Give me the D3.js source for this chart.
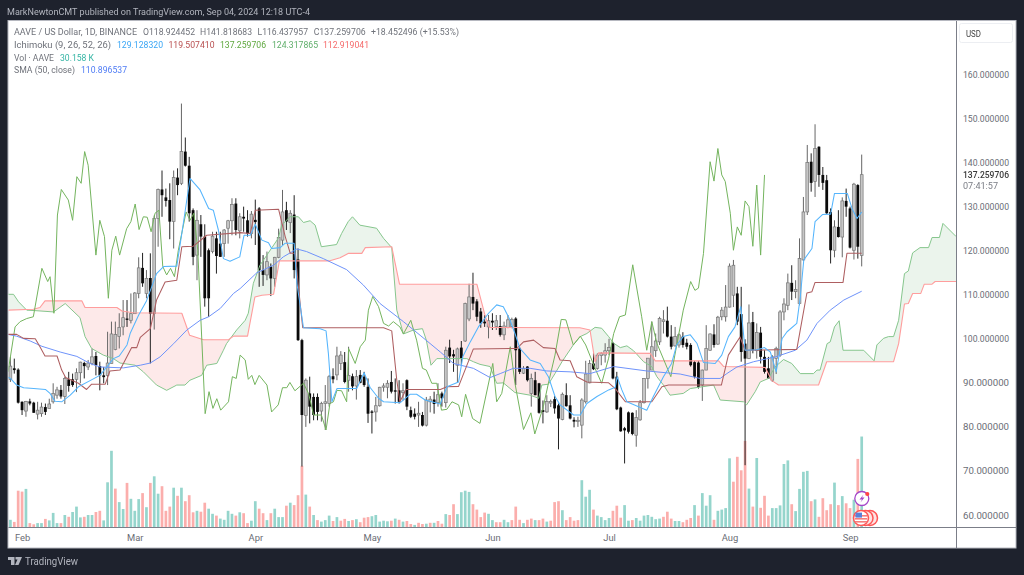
<!DOCTYPE html>
<html><head><meta charset="utf-8">
<script src="https://d3js.org/d3.v7.min.js"></script>
<style>html,body{margin:0;padding:0;background:#1e222d;overflow:hidden}svg{display:block;filter:blur(.35px)}text{font-family:Roboto,"Liberation Sans",sans-serif}</style>
</head><body><svg id="c" width="1024" height="575"></svg>
<script>
const opens=[90.8,93.3,93.0,85.7,83.6,85.8,85.5,82.9,83.0,84.5,
84.2,85.7,87.2,88.4,86.9,90.8,90.8,90.8,92.3,94.5,
93.6,94.4,96.1,93.8,91.7,91.7,94.4,97.6,100.5,102.7,
104.6,104.2,105.7,110.3,116.1,110.3,113.8,105.7,127.3,133.9,
132.1,131.5,126.6,136.6,135.3,142.5,139.3,129.2,119.0,126.0,
123.2,120.1,119.8,122.8,121.6,121.6,125.1,126.8,130.7,124.5,
127.7,126.9,123.9,127.0,129.6,115.6,114.5,116.4,113.7,118.5,
122.4,129.2,126.4,128.2,118.0,99.7,82.6,87.6,86.8,86.8,
83.6,85.3,85.3,91.5,91.8,94.4,94.7,90.6,91.5,89.3,
91.8,91.4,89.1,83.5,83.4,84.8,89.0,89.0,90.2,88.3,
88.3,87.8,90.6,83.8,83.0,82.7,82.7,80.4,85.7,86.2,
85.5,87.6,85.5,98.0,96.5,94.0,98.0,99.5,104.5,109.5,
108.5,106.2,103.9,102.7,104.1,102.8,102.9,100.9,102.6,102.8,
104.6,97.8,92.2,93.7,87.6,90.6,89.9,83.8,83.4,85.4,
86.3,84.9,81.7,87.2,84.9,81.6,81.2,80.4,85.7,90.0,
94.4,93.3,96.2,96.3,97.3,99.0,91.4,84.4,79.7,83.3,
83.2,78.1,81.6,85.5,91.0,92.9,97.3,99.3,103.9,104.1,
100.5,98.4,98.6,100.5,99.1,98.6,94.7,94.6,89.5,92.9,
97.4,101.0,98.8,105.0,105.0,107.2,109.9,110.3,105.6,98.9,
95.5,103.8,97.3,101.4,95.9,93.3,90.6,95.5,96.3,106.1,
107.6,112.7,110.7,108.0,117.9,128.8,140.2,135.7,143.6,137.2,
136.0,128.8,120.1,125.4,123.1,131.3,129.6,120.1,134.9,118.924];
const highs=[95.9,95.5,93.3,85.8,85.9,86.4,85.7,85.7,85.5,85.3,
86.4,89.9,89.1,89.5,91.4,92.5,92.1,93.3,94.8,94.8,
95.2,97.8,97.0,94.8,93.6,101.6,103.9,103.9,105.8,108.8,
108.8,110.3,110.6,118.5,119.5,115.6,119.4,128.0,134.1,138.2,
134.1,135.3,138.2,138.7,153.4,145.7,141.3,129.6,129.2,128.1,
126.0,120.5,124.3,124.3,124.3,124.9,127.0,131.9,131.9,128.5,
130.0,129.2,129.0,131.6,129.9,119.0,119.8,117.1,118.6,125.0,
133.8,131.1,129.2,132.6,120.5,100.0,91.0,91.4,87.6,87.6,
85.7,89.5,91.8,93.3,98.2,97.2,97.0,98.2,92.1,92.9,
92.9,92.5,91.0,83.8,86.8,89.1,89.9,90.6,92.7,91.0,
90.6,89.9,90.8,84.6,84.2,85.7,83.4,86.8,87.0,88.0,
89.9,88.0,98.2,99.8,97.5,98.0,99.5,108.2,112.5,115.0,
109.0,107.0,105.4,105.4,105.8,105.4,105.4,103.9,105.4,104.8,
104.9,98.2,93.8,93.8,92.1,92.5,90.0,86.0,87.2,86.2,
87.0,85.3,87.8,89.9,87.2,82.2,82.3,86.5,95.0,95.2,
96.7,96.7,97.0,99.0,100.0,99.3,92.5,84.6,80.0,83.5,
83.3,83.8,86.1,91.1,95.6,103.9,101.2,105.0,106.5,107.3,
103.1,102.7,101.2,101.5,100.0,99.0,95.0,95.0,93.0,103.1,
101.2,103.3,105.2,107.2,112.2,117.1,117.9,111.8,111.8,99.9,
107.8,106.1,103.5,102.7,97.4,95.9,96.3,98.2,106.5,109.2,
114.8,116.7,113.3,122.8,132.2,144.0,142.1,148.7,143.7,139.0,
137.2,129.6,126.9,129.2,132.1,134.1,130.0,135.4,135.1,141.819];
const lows=[90.2,92.1,85.3,82.7,82.3,84.9,83.2,81.7,82.3,82.7,
84.2,85.3,86.4,86.4,85.2,88.0,89.1,87.9,89.9,91.0,
92.9,94.0,91.7,88.3,89.9,89.5,94.4,97.4,97.8,100.8,
102.7,103.5,105.7,109.2,111.8,109.2,94.4,102.1,120.9,127.7,
130.0,122.6,120.5,132.6,134.9,139.1,126.6,116.7,113.3,118.6,
107.3,105.0,119.4,114.8,118.6,118.6,121.6,123.5,123.5,122.8,
124.3,123.2,122.8,121.3,111.8,112.0,113.3,109.7,111.8,118.3,
121.3,124.7,124.0,113.7,99.5,71.0,80.0,80.8,81.5,81.5,
81.2,79.3,84.6,89.9,90.6,92.9,89.9,88.0,88.3,86.2,
89.9,89.1,80.9,78.5,81.2,84.6,88.0,86.5,87.6,85.3,
85.3,86.0,83.8,82.0,81.7,80.0,80.1,80.1,83.3,83.0,
84.6,84.6,84.4,94.5,92.5,90.0,94.0,99.3,104.0,106.5,
104.0,102.5,102.7,100.1,102.0,102.0,100.5,99.7,102.4,102.4,
89.5,92.0,92.0,90.3,84.6,87.2,83.0,80.8,83.2,84.5,
83.0,74.9,81.5,84.6,81.7,79.9,80.0,77.4,85.3,89.9,
92.9,93.0,94.0,94.6,96.3,90.8,83.8,78.9,71.7,78.5,
78.1,75.5,81.4,85.3,88.7,92.9,95.9,98.6,101.2,100.3,
97.6,98.2,98.0,98.0,97.6,93.7,91.0,88.7,85.9,92.9,
97.3,98.0,98.6,104.2,103.9,107.1,107.2,103.1,94.8,71.3,
95.4,96.7,95.5,94.4,92.1,91.0,90.2,92.0,95.9,104.2,
106.5,108.8,109.2,107.6,117.7,128.1,133.4,132.2,134.5,133.8,
128.3,117.1,118.5,123.0,118.5,127.7,120.5,118.0,118.2,116.438];
const closes=[93.8,92.9,85.5,83.8,85.8,85.3,83.2,83.8,84.5,83.4,
85.2,87.6,88.4,86.9,91.0,89.3,89.5,92.3,94.7,93.8,
94.5,95.9,94.0,91.7,91.3,94.5,101.1,101.0,102.6,104.8,
104.3,105.7,110.4,116.1,112.6,113.7,105.7,127.3,133.9,132.6,
131.3,126.6,136.6,134.9,142.5,139.3,128.5,118.6,126.9,123.2,
109.2,109.2,123.3,118.8,118.6,124.7,126.8,130.5,124.7,127.7,
127.3,123.9,128.3,126.5,115.6,114.5,117.5,113.7,118.5,123.0,
128.8,126.6,128.5,115.6,99.7,82.7,90.6,84.6,82.7,83.4,
85.3,85.7,91.4,90.8,96.1,96.3,90.2,91.7,89.2,91.4,
90.0,89.5,83.0,83.2,84.8,89.0,89.3,89.9,88.0,88.0,
85.7,88.2,84.6,82.3,82.3,83.1,80.3,86.1,86.3,85.2,
87.3,86.5,97.4,96.0,96.0,97.7,95.5,108.0,109.5,108.0,
105.0,103.5,103.5,104.1,103.7,104.1,100.9,102.9,104.3,104.4,
97.4,92.5,93.3,90.6,91.0,87.2,83.2,83.4,85.8,85.8,
84.2,81.9,87.4,84.7,81.9,81.2,81.5,86.1,92.0,94.4,
93.1,96.3,96.7,97.3,98.0,91.0,84.0,79.0,79.2,78.9,
78.4,82.1,85.5,91.0,95.6,98.2,99.5,104.6,104.3,100.5,
98.2,100.5,100.9,98.6,98.2,94.0,91.4,89.1,92.9,97.8,
101.1,98.6,104.9,106.5,107.2,116.5,116.7,103.9,97.0,95.5,
103.6,97.4,101.4,95.9,92.5,91.0,95.9,97.8,106.1,107.9,
112.7,110.7,111.2,118.2,128.8,140.0,135.4,143.2,137.2,135.4,
128.5,120.1,125.4,123.1,131.3,130.0,120.7,135.1,120.9,137.260];
const volumes=[2.4,1.7,12.1,11.8,12.7,1.3,.9,1.3,1.3,2.7,
2.2,4.7,1.3,1.3,4,3.4,5,6.8,3.2,3.4,
4,4,5,5.4,2.2,14.9,25.4,12.8,8.3,6,
14.7,9.4,5.4,9.3,11.3,6.6,14.7,16.9,11.1,13.6,
5.4,6.8,13.1,10.4,13.1,8.6,10.6,4.9,5.4,5.1,
8.1,6.1,4.4,3.8,2.8,2.4,5.4,4.4,3.8,4.9,
4.6,1.3,2.1,8.6,6.1,4.6,2.3,4.6,6.1,3.3,
3.3,7.1,8.1,7.3,10.6,20.4,10.8,6.8,4,2.3,
1.8,2.3,3.8,2,3.3,2.1,2.7,2,2.3,2.6,
1.6,3.1,3.3,3.6,4,1.8,2.1,1.9,2.1,2.8,
2.4,1.8,2,1,.7,1.4,1,1.1,1.4,1.4,
2,1.1,4.3,4,7.6,4.3,11.6,12.1,11.7,7.6,
5.8,3.3,4.8,4.4,2.3,1.6,1.6,2.4,1.6,2.3,
6.8,2.4,1.3,2.4,2.8,2.3,2.3,2.8,1.8,2.1,
8.3,8.6,5.6,2.3,3.3,2.1,2.3,15.6,10.1,12.4,
5.8,3.8,3.3,2.3,3,5.4,7.1,3.1,7.3,2.1,
2.3,3,2.1,3.8,4,3.4,2.6,2.8,3.4,5.1,
2.8,2,2,1.6,2.4,3,7.3,3.8,11.3,7.1,
10.6,2.4,5.4,5.8,6.3,22.9,15.1,23.4,18.9,28.7,
12.8,6.8,23,6.4,10.4,3.8,6.3,6.3,7.2,21,
22.2,7.6,5.3,12.7,18.4,18.7,8.6,9.2,3.4,9.6,
5.6,7.6,14.8,7.3,10.3,7.9,6.3,9.1,22.7,30.158];
const volumeUp=[1,0,0,0,1,0,0,1,1,0,1,1,1,0,1,0,1,1,1,0,1,1,0,0,1,1,1,0,1,1,
0,1,1,1,0,1,0,1,1,0,0,0,1,0,1,0,0,0,1,0,0,1,1,0,1,1,1,1,0,1,
0,0,1,1,0,0,1,0,1,1,1,0,1,0,0,0,1,0,1,0,1,1,1,0,1,0,0,1,0,1,
0,0,0,1,1,1,1,1,0,1,0,1,0,0,1,0,0,1,0,1,0,0,1,0,0,1,1,1,1,0,
0,0,0,1,1,0,0,1,1,0,0,0,1,0,0,1,0,0,1,0,0,0,1,0,0,0,0,1,1,1,
0,1,1,1,1,0,0,0,1,1,0,1,1,1,1,1,1,1,0,0,0,1,1,0,0,0,1,0,1,1,
1,0,1,1,1,1,0,0,0,0,1,0,1,0,0,0,1,1,1,1,1,0,1,1,1,1,0,1,0,0,
0,0,1,0,1,0,0,1,0,1];
const tenkan=[[-0.6,91.3],[0,91],[1.6,89.5],[3.4,88.9],[6,88.7],[9,88.5],[10.2,87.6],[11.5,85.8],[13.2,85.7],[15.4,87.2],[17.5,89.1],[20.5,90.5],[23,91.7],[24.8,93.6],[26.5,95.5],[28,96.1],[30,98.6],[30.8,101.2],[33,105.4],[35,108.6],[37.6,114.8],[39.4,116.4],[42.8,116.5],[44.1,123.9],[46.2,136.4],[48.8,133.8],[51,129.6],[52.2,129.2],[53.5,124.7],[54.8,118.2],[56.5,117.6],[59,118.6],[60.1,123.5],[61.7,123.5],[63,126],[64.7,122.4],[66.4,121.8],[67.2,120.5],[69.4,120.7],[70.7,121.7],[73,121.7],[73.7,112.6],[75.4,102.5],[79.7,102.3],[81.2,101.8],[81.8,96.7],[82.7,85.7],[84,88.7],[89.1,88.7],[91,92.3],[92.5,89],[94.7,86.5],[96,85.7],[100.3,85.5],[102.8,87.4],[104.5,87.4],[106.7,86.1],[110.6,85.2],[112.3,89.1],[115.3,90.2],[116.4,96],[118.3,99.3],[120.4,102.7],[123,105.8],[125.1,107.7],[126.8,107.3],[128.5,104.3],[129.8,101.2],[131.1,97.8],[133.7,95.2],[136.3,94.4],[138.4,91.4],[140.1,86.9],[141.4,85],[144.9,82.7],[146.6,82.7],[148.3,85.3],[150.9,86.9],[153.9,88.4],[155.6,89],[156.1,91.4],[157.3,88.4],[158.6,85.7],[163.7,83.8],[165.4,86.9],[168,91.4],[170.1,94.4],[171.4,98.6],[173.1,100.5],[174.9,100.9],[176.6,99],[178.3,94.6],[181.3,94.4],[183,96.3],[184.7,100.5],[186.4,102.7],[187.9,107.3],[188.5,102],[189,97.4],[192,97.5],[194,98],[195.5,97],[196,95.5],[197,92.5],[198.5,100],[199.8,101.6],[202.3,103.5],[203.2,109.5],[204.1,117.9],[206.2,120.5],[207,126.6],[208.9,128.2],[211,128.3],[212,133],[215.3,133],[216.5,129.6],[217.8,127.3],[219,128.8]];
const kijun=[[-0.6,101],[1.6,101],[3.4,100.1],[6.4,100],[7.6,98.2],[8.9,96.1],[12,96.1],[13.2,92.9],[14.2,91.2],[17.5,89.9],[19.6,88.5],[20.9,89.7],[24.4,89.7],[25.6,92.7],[28.2,92.9],[31.2,98],[32.5,98],[33.4,100.3],[36,102.3],[37.6,108.8],[39.8,112.9],[42.8,113.3],[44.1,120.9],[47,121],[50.5,123.5],[59.1,124.1],[61.7,123.9],[63,129.2],[69,129.4],[70.7,123.2],[72,119.4],[73.3,119.4],[74,112.6],[75.2,102.5],[96,102.5],[98.1,101.8],[99.4,90.6],[100.2,85.7],[101.8,88.5],[110.6,88.5],[112.3,89.1],[115.3,89.2],[119.1,97.7],[130.3,97.8],[132,99.3],[134.6,99.7],[137.1,98],[140.1,97.8],[141.4,95.2],[144,95],[145.7,91.4],[148.3,90.2],[153.9,90],[155.6,88.7],[158.2,85.7],[165,85.7],[167.6,89.1],[169.3,89.5],[182.9,89.5],[184.7,96.3],[187.7,100.4],[189,97.4],[202.3,97.6],[204.9,110.4],[206.2,110.7],[207,112.8],[214.2,112.8],[215.2,119.4],[219,119.4]];
const lagging=[[-0.6,92.5],[1.2,102.7],[2.5,103.9],[4.2,104.6],[5.9,105],[8.1,116],[9.6,113],[10.2,114.1],[11.2,105.8],[12.1,128.1],[13.1,133.9],[14.9,131.5],[16,126.9],[17.1,136.8],[18.2,135.3],[19.1,142.5],[20,139.4],[22,119],[23,126.9],[24.2,123.2],[25.2,109.2],[26.1,120.1],[27.1,123.3],[28.1,119],[29.9,125],[31,126.6],[32.1,130.6],[33.1,124.8],[34.2,127.7],[35.2,127.6],[36.2,124.3],[37.2,128.5],[38.2,129.2],[39.2,116.4],[40.2,114.5],[41.2,116],[42.2,114.1],[43.2,120.1],[45.2,128.8],[46.2,126.9],[47.2,128.5],[48.2,120.1],[50.1,83],[51.1,88],[52.1,84.2],[53.1,86.4],[54.1,83.8],[56.1,85.7],[57.1,91.4],[58.1,91],[59.1,96.3],[60.4,95.2],[61.2,90.8],[62.1,91.7],[62.9,89.6],[64,91.7],[66,89.5],[67.2,83.4],[68.9,85],[70,88.9],[71.1,88.9],[71.9,90.1],[73.2,88.2],[75.4,89.9],[76.7,87.6],[78,82.7],[80,82.7],[81.2,79.3],[82.2,85.3],[83.1,85.7],[84,88.3],[85.2,88.2],[86.5,85.7],[87,97.8],[88.7,94.4],[90,98.2],[91.3,99.7],[92.1,106.5],[93.2,109.6],[94.7,107.3],[96,103.5],[97.3,102.9],[98.5,103.9],[100.2,102.7],[101.1,101.1],[103,104.2],[104.5,99.7],[106,93.3],[107,92.9],[108.4,89.9],[109.7,89.9],[110.9,83.8],[112.3,84],[113.6,85.7],[115.3,85],[116.1,82.3],[117.1,87.4],[118.9,81.9],[120.8,80.8],[124.1,94.4],[125.1,85.7],[126.4,87.6],[128.6,98.2],[129.8,89.9],[132,79.4],[133.9,83.2],[134.9,78.4],[137.1,84.6],[138.4,89.9],[140.1,96.3],[141.7,104.4],[142.9,104.3],[144.8,98.6],[146.6,100.6],[148,98.6],[150.4,93.3],[152.1,89.9],[153.9,95.6],[155.2,101.2],[156.7,105],[158.2,105.4],[160.1,116.8],[162.4,105],[163.7,97.4],[165,103.9],[166.3,99],[169.9,91.4],[173.1,106.5],[175,113],[176.1,111],[177,111.5],[178.3,119.4],[180,140.2],[181,135.8],[182,143.2],[183,137.2],[183.9,135.7],[185.2,128.5],[186,120.1],[187,125.4],[188,123.5],[189,131.3],[190,130],[191,121],[192,134.9],[193,119],[194,137.2]];
const leadA=[[-0.6,110.1],[0.8,110.1],[2.1,108.4],[4.2,106.5],[6.3,106.4],[11.1,106.1],[14.1,108],[17.9,104.8],[19.2,100.5],[20.9,97.8],[23.9,96.3],[26.5,95.5],[28.2,94.5],[32.1,94],[34.2,92.5],[37.6,89.5],[40.2,88.3],[42.8,89.5],[44.9,89.5],[46.2,90.6],[49.2,91.7],[50.5,94],[53.1,94.4],[54.8,97.4],[55.6,98.9],[58.2,102],[60.4,104.2],[61.2,105.8],[62.5,112.6],[64.2,116.7],[68.9,122.8],[69.8,125.8],[71.9,127.7],[74.1,127.7],[75.4,126.4],[77.1,126.8],[78.4,125.8],[80,120.9],[83.9,121.4],[85.2,123.9],[86.9,126.6],[88,127.7],[89.9,125.8],[94.2,125.1],[96,122.8],[98.1,120.7],[99.4,106.5],[101.1,101.1],[103.7,102],[106,102.3],[107,99.7],[108.2,94],[109.7,95.5],[117.4,95.5],[119.1,94.8],[120.8,94.2],[123.4,93.7],[125.1,89.9],[126.8,90],[129.8,87.8],[133.7,87.2],[135.9,86.5],[136.7,89.5],[138.4,89.7],[140.1,92.1],[141.9,94.8],[144.8,98.6],[146.6,100.5],[148.3,101.2],[150.4,102.6],[152.1,102.4],[153.9,100.5],[155.2,99],[156.9,98],[158.6,98.4],[160.3,97.3],[162.9,94.8],[165,93.7],[166.3,91.4],[168,89.5],[169.7,87.2],[173.1,87.6],[174.9,88.7],[180.9,89.5],[182.6,86.1],[188.6,85.7],[189.4,85],[191.6,88],[192.9,90.2],[195,91],[196.7,93.6],[198.9,95.3],[201,94.4],[203.2,92.1],[206.6,92.1],[207.5,92.9],[208.3,92.9],[210.1,98.9],[210.9,99.3],[212,102.7],[213.2,104.1],[214.2,97.4],[219.5,97.4],[222.2,95],[222.9,98.6],[224.6,100.1],[225.9,100.5],[227.2,100.5],[228.5,104.2],[230,114.8],[231,115.4],[232.1,119.5],[234,120.7],[236.2,120.7],[237.1,123],[239,123],[239.9,126.2],[243.3,123.2]];
const leadB=[[-0.6,106.5],[5.9,106.7],[7.6,107.1],[8.9,108.6],[18.4,108.6],[19.2,107.1],[27.4,107.1],[28.7,106.3],[31.6,105.9],[44.1,105.8],[46.1,100.8],[49.7,99.8],[56.1,99.8],[57.4,100.6],[61,100.6],[62.9,109.5],[64.7,109.9],[67.7,110.1],[69.2,117.7],[82.2,117.7],[84.8,118.4],[87,119.4],[90.4,119.4],[91.3,120.7],[98.1,120.9],[100.1,112.4],[120,112.4],[122.2,105],[123.2,102.6],[146.5,102.5],[149.1,102],[150.4,94.8],[151.3,96.8],[164.6,96.7],[165.9,95],[182.2,95],[183.5,93.7],[194.2,93.5],[195.9,90.5],[197.6,89.5],[207.9,89.5],[210,94.8],[227.2,94.8],[228.5,98.9],[230,107.9],[231,108],[232.1,110.3],[234.2,110.3],[235.1,112.4],[237.1,112.4],[237.9,113],[243.3,113]];
const sma50=[[-0.6,101],[1.6,100.6],[5.1,99.5],[8.1,98.3],[12.8,97],[17.1,96],[20.5,94.4],[23.1,93.6],[29.1,93.4],[33.4,94],[36,94.5],[38.5,95.9],[42,98.9],[45.4,102],[48.8,104.2],[51,105],[54,106.9],[57.4,110.3],[59.1,111.4],[63.4,115],[67.7,116.7],[70.2,118.6],[73.7,120.4],[76.2,119.8],[80.5,118.2],[86.5,115.7],[90.8,112.2],[95.1,108],[101.1,103.9],[105.4,100.8],[110.6,97],[114,94.4],[119.1,93.3],[123.4,91.2],[126,92.1],[129.4,93.3],[133.7,93.3],[138,92.7],[144,92.5],[149.1,92.1],[155.2,93.7],[163.7,92.7],[172.3,92],[177.4,91],[182.6,91],[184.3,92.1],[186.9,93.6],[191.2,94.8],[196.8,95.9],[201.9,97.4],[204.9,99.7],[207.5,103.5],[210.9,106.5],[214.4,108.8],[219,110.8]];
const priceTicks=[60,70,80,90,100,110,120,130,140,150,160];
const monthLabels=["Feb","Mar","Apr","May","Jun","Jul","Aug","Sep"];
const monthDays=[3,32,63,93,124,154,185,216];
const lastClose=137.259706;

const svg=d3.select("#c");
const x=d3.scaleLinear().domain([0,219]).range([10.4,861.7]);
const y=d3.scaleLinear().domain([60,160]).range([515,74.5]);
const v=d3.scaleLinear().domain([0,30]).range([527,437]);
const days=d3.range(220);
svg.append("rect").attr("x",8).attr("y",20.5).attr("width",1008).attr("height",527.5).attr("fill","#fff").attr("stroke","#b6b8c0").attr("stroke-width",1);
svg.append("defs").append("clipPath").attr("id","plot").append("rect").attr("x",8.5).attr("y",21).attr("width",947.5).attr("height",506);
const g=svg.append("g").attr("clip-path","url(#plot)");

// volume
g.append("g").selectAll("rect").data(days).join("rect")
 .attr("x",i=>x(i)-1.35).attr("width",2.7).attr("y",i=>v(volumes[i])).attr("height",i=>527-v(volumes[i]))
 .attr("fill",i=>volumeUp[i]?"#95d5cc":"#fbaeac");

// cloud fill, between the read vertices of the two span lines
const aAt=d3.scaleLinear().domain(leadA.map(d=>d[0])).range(leadA.map(d=>d[1]));
const bAt=d3.scaleLinear().domain(leadB.map(d=>d[0])).range(leadB.map(d=>d[1]));
const cloudX=d3.range(-0.6,243.31,0.1);
const area=d3.area().x(t=>x(t)).y0(t=>y(bAt(t)));
g.append("path").attr("fill","#ebf4ec").attr("d",area.y1(t=>y(Math.max(aAt(t),bAt(t))))(cloudX));
g.append("path").attr("fill","#fde9e9").attr("d",area.y1(t=>y(Math.min(aAt(t),bAt(t))))(cloudX));

// candles
const cg=g.append("g");
cg.selectAll("line").data(days).join("line")
 .attr("x1",i=>x(i)).attr("x2",i=>x(i)).attr("y1",i=>y(highs[i])).attr("y2",i=>y(lows[i]))
 .attr("stroke",i=>closes[i]>=opens[i]?"#666":"#222").attr("stroke-width",1);
cg.selectAll("rect").data(days).join("rect")
 .attr("x",i=>x(i)-1.4).attr("width",2.8)
 .attr("y",i=>y(Math.max(opens[i],closes[i])))
 .attr("height",i=>Math.max(1,Math.abs(y(opens[i])-y(closes[i]))))
 .attr("fill",i=>closes[i]>=opens[i]?"#c6c6c6":"#0a0a0a")
 .attr("stroke",i=>closes[i]>=opens[i]?"#777":"none").attr("stroke-width",.7);

// lines
const line=d3.line().x(d=>x(d[0])).y(d=>y(d[1]));
const series=[[leadA,"#86c68d",1],[leadB,"#ff9d9d",1.1],[lagging,"#74b45e",1],[sma50,"#6f93fa",1],[kijun,"#ae5f61",1.05],[tenkan,"#55b5fd",1.05]];
g.append("g").selectAll("path").data(series).join("path")
 .attr("fill","none").attr("stroke",d=>d[1]).attr("stroke-width",d=>d[2]).attr("stroke-linejoin","round").attr("d",d=>line(d[0]));

// axes
const ax=svg.append("g").attr("transform","translate(956.5,0)").call(d3.axisRight(y).tickValues(priceTicks).tickSize(0).tickFormat(d3.format(".6f")).tickPadding(6.5));
ax.select(".domain").remove();
ax.selectAll("text").attr("font-size",9.4).attr("fill","#6a6d75").attr("textLength",46).attr("lengthAdjust","spacingAndGlyphs");
const tScale=d3.scaleOrdinal().domain(monthLabels).range(monthDays.map(d=>x(d)));
const tx=svg.append("g").attr("transform","translate(0,527.5)").call(d3.axisBottom(tScale).tickSize(0).tickPadding(6.5));
tx.select(".domain").remove();
tx.selectAll("text").attr("font-size",9.4).attr("fill","#6a6d75");
svg.append("line").attr("x1",8.5).attr("x2",1016).attr("y1",527.5).attr("y2",527.5).attr("stroke","#7b7e88");
svg.append("line").attr("x1",956.5).attr("x2",956.5).attr("y1",21).attr("y2",548).attr("stroke","#7b7e88");
svg.append("rect").attr("x",959.5).attr("y",23.5).attr("width",53).attr("height",19).attr("rx",2).attr("fill","#fff").attr("stroke","#eceef2");
const T=(s,px,py,col,size,w)=>{const t=svg.append("text").attr("x",px).attr("y",py).attr("fill",col).attr("font-size",size).text(s);if(w)t.attr("textLength",w).attr("lengthAdjust","spacingAndGlyphs");return t;};
T("USD",966,36.5,"#444",9,15);
T(d3.format(".6f")(lastClose),963,178.3,"#3a3a3a",9.4,46).attr("font-weight",500);
T("07:41:57",963,188.9,"#7a7d85",9.4,35);

// legend
const lc="#6f727a";
T("MarkNewtonCMT published on TradingView.com, Sep 04, 2024 12:18 UTC-4",7,14.5,"#b2b5be",9.8,303);
T("AAVE / US Dollar, 1D, BINANCE",14,35,lc,9.6,123);
T("O118.924452",143,35,lc,9.6,52);T("H141.818683",200,35,lc,9.6,52);T("L116.437957",257.5,35,lc,9.6,50.5);T("C137.259706",313.7,35,lc,9.6,52);T("+18.452496 (+15.53%)",371,35,lc,9.6,88);
T("Ichimoku (9, 26, 52, 26)",14,48,lc,9.6,97);
T("129.128320",117,48,"#3aa6f5",9.6,46);T("119.507410",168.5,48,"#b84f50",9.6,46);T("137.259706",220,48,"#5fa83f",9.6,46);T("124.317865",272,48,"#5fae6a",9.6,46);T("112.919041",323,48,"#f56a6a",9.6,46);
T("Vol · AAVE",14,60.5,lc,9.6,40);T("30.158 K",60,60.5,"#36b5a5",9.6,34);
T("SMA (50, close)",14,73,lc,9.6,61);T("110.896537",81,73,"#4f7cf5",9.6,46);

// event marks
[870,865.5].forEach(cx=>{svg.append("circle").attr("cx",cx).attr("cy",518).attr("r",7.5).attr("fill","#fde3e3").attr("stroke","#f55").attr("stroke-width",1.5);});
svg.append("circle").attr("cx",861).attr("cy",518).attr("r",7.5).attr("fill","#fff").attr("stroke","#f55").attr("stroke-width",1.5);
[515,518,521].forEach(py=>svg.append("rect").attr("x",854.8).attr("y",py).attr("width",12.4).attr("height",1.6).attr("fill","#f47c7c"));
svg.append("rect").attr("x",855.5).attr("y",512.6).attr("width",6.5).attr("height",5).attr("fill","#5b7fd6");
svg.append("circle").attr("cx",861.8).attr("cy",498.5).attr("r",7).attr("fill","#fff").attr("stroke","#a445c9").attr("stroke-width",1.3);
svg.append("path").attr("d","M863.5 494.5L859.5 499.5H862L860.5 502.5L864.5 497.5H862Z").attr("fill","#a445c9");
svg.append("circle").attr("cx",867.3).attr("cy",494).attr("r",2.1).attr("fill","#f44");

// logo
svg.append("path").attr("d","M8 557H14.5V565H11V560H8ZM15.5 557H22L18.5 565H15L17.5 559.5H15.5Z").attr("fill","#b2b5be");
T("TradingView",25,565,"#b2b5be",10.5,53);
</script></body></html>
